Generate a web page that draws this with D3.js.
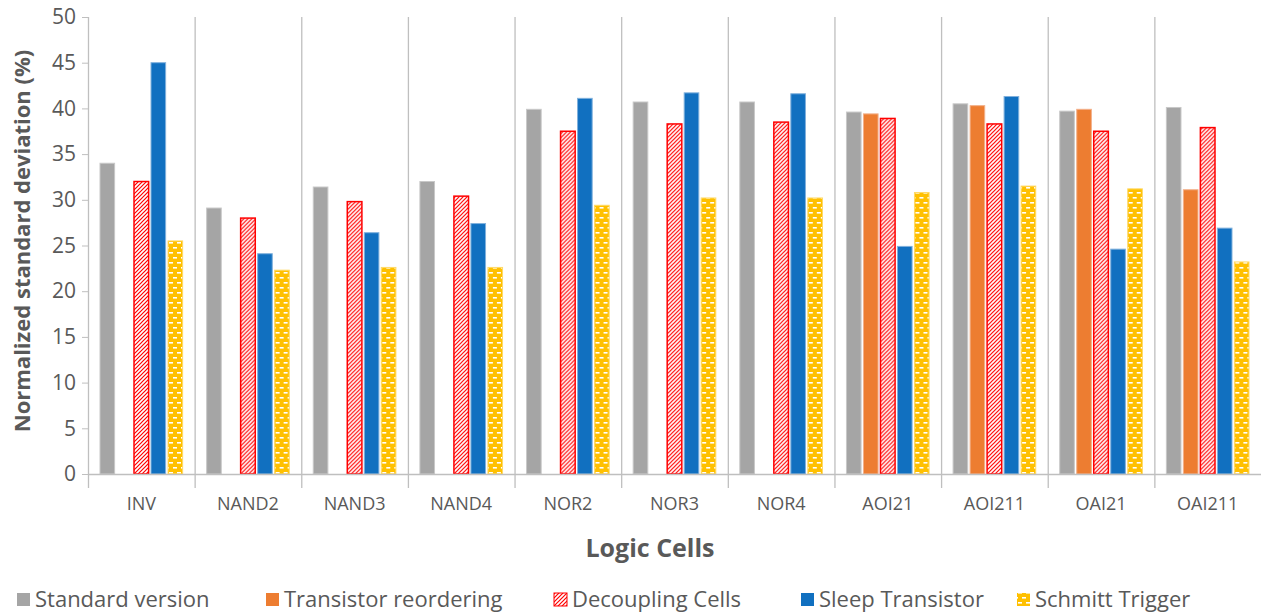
<!DOCTYPE html>
<html><head><meta charset="utf-8">
<script src="https://cdn.jsdelivr.net/npm/d3@7"></script>
<style>
body{margin:0;background:#fff;}
svg{display:block;font-family:"Open Sans",Lato,sans-serif;}
</style></head><body>
<svg id="c" width="1261" height="613"></svg>
<script>
const categories = ["INV","NAND2","NAND3","NAND4","NOR2","NOR3","NOR4","AOI21","AOI211","OAI21","OAI211"];
const seriesNames = ["Standard version","Transistor reordering","Decoupling Cells","Sleep Transistor","Schmitt Trigger"];
const standardVersion = [34.0,29.1,31.4,32.0,39.9,40.7,40.7,39.6,40.5,39.7,40.1];
const transistorReordering = [null,null,null,null,null,null,null,39.4,40.3,39.9,31.1];
const decouplingCells = [32.0,28.0,29.8,30.4,37.5,38.3,38.5,38.9,38.3,37.5,37.9];
const sleepTransistor = [45.0,24.1,26.4,27.4,41.1,41.7,41.6,24.9,41.3,24.6,26.9];
const schmittTrigger = [25.5,22.3,22.6,22.6,29.4,30.2,30.2,30.8,31.5,31.2,23.2];
const yTicks = [0,5,10,15,20,25,30,35,40,45,50];

const allSeries = [standardVersion, transistorReordering, decouplingCells, sleepTransistor, schmittTrigger];
const svg = d3.select("#c");
const defs = svg.append("defs");
const p1 = defs.append("pattern").attr("id","hatch").attr("patternUnits","userSpaceOnUse")
  .attr("width",4).attr("height",4);
p1.append("rect").attr("width",4).attr("height",4).attr("fill","#fff");
p1.append("path").attr("d","M-1,1 l2,-2 M0,4 l4,-4 M3,5 l2,-2").attr("stroke","#ff0000").attr("stroke-width",1.2);
const p2 = defs.append("pattern").attr("id","dash").attr("patternUnits","userSpaceOnUse")
  .attr("width",8).attr("height",10);
p2.append("rect").attr("width",8).attr("height",10).attr("fill","#ffc000");
p2.append("rect").attr("x",1).attr("y",2).attr("width",4).attr("height",1.6).attr("fill","#fff");
p2.append("rect").attr("x",5).attr("y",7).attr("width",4).attr("height",1.6).attr("fill","#fff");
p2.append("rect").attr("x",-3).attr("y",7).attr("width",4).attr("height",1.6).attr("fill","#fff");

const fills = ["#a5a5a5","#ed7d31","url(#hatch)","#1170c0","url(#dash)"];
const strokes = ["#c8c8c8","#f3b08a","#ff0000","#7fb0dc","#ffd966"];

const m = {l:88, t:17, b:474};
const x = d3.scaleBand().domain(categories).range([m.l, 1261]).paddingInner(0).paddingOuter(0);
const y = d3.scaleLinear().domain([0,50]).range([m.b, m.t]);
const xs = d3.scaleBand().domain(d3.range(5)).range([12, x.bandwidth()-12]).paddingInner(0.14).paddingOuter(0);

const bounds = categories.map(c=>x(c));
svg.append("g").selectAll("line").data(bounds).join("line")
  .attr("x1",d=>d+0.5).attr("x2",d=>d+0.5).attr("y1",m.t).attr("y2",m.b+14)
  .attr("stroke","#bfbfbf").attr("stroke-width",1.3);

const groups = svg.append("g").selectAll("g").data(categories).join("g")
  .attr("transform",c=>`translate(${x(c)},0)`);
groups.selectAll("rect").data((c,i)=>allSeries.map((s,k)=>({k, v:s[i]})).filter(d=>d.v!=null)).join("rect")
  .attr("x",d=>xs(d.k)).attr("width",xs.bandwidth())
  .attr("y",d=>y(d.v)).attr("height",d=>y(0)-y(d.v))
  .attr("fill",d=>fills[d.k]).attr("stroke",d=>strokes[d.k]).attr("stroke-width",d=>d.k===2?1.5:1);

svg.append("line").attr("x1",m.l).attr("x2",1261).attr("y1",m.b+0.5).attr("y2",m.b+0.5)
  .attr("stroke","#bfbfbf").attr("stroke-width",1.3);

const ya = svg.append("g").attr("transform",`translate(${m.l},0)`)
  .call(d3.axisLeft(y).tickValues(yTicks).tickSize(6).tickPadding(6));
ya.select(".domain").remove();
ya.selectAll(".tick line").attr("stroke","#bfbfbf");
ya.selectAll(".tick text").attr("fill","#595959").style("font-size","21px").style("font-family","'Open Sans',sans-serif");

svg.append("g").selectAll("text").data(categories).join("text")
  .attr("x",c=>x(c)+x.bandwidth()/2).attr("y",510).attr("text-anchor","middle")
  .attr("fill","#595959").style("font-size","18px").text(c=>c);

svg.append("text").attr("x",650).attr("y",557).attr("text-anchor","middle")
  .attr("fill","#595959").style("font-size","25px").style("font-weight","bold").text("Logic Cells");
svg.append("text").attr("transform","translate(30,241) rotate(-90)").attr("text-anchor","middle")
  .attr("fill","#595959").style("font-size","22px").style("font-weight","bold").text("Normalized standard deviation (%)");

const legX = [17,266,554,801,1017];
const lg = svg.append("g").selectAll("g").data(seriesNames).join("g")
  .attr("transform",(d,i)=>`translate(${legX[i]},590)`);
lg.append("rect").attr("x",0).attr("y",3).attr("width",13).attr("height",13)
  .attr("fill",(d,i)=>fills[i]).attr("stroke",(d,i)=>i===2?"#ff0000":"none");
lg.append("text").attr("x",18).attr("y",17).attr("fill","#595959").style("font-size","22px").text(d=>d);
</script>
</body></html>
